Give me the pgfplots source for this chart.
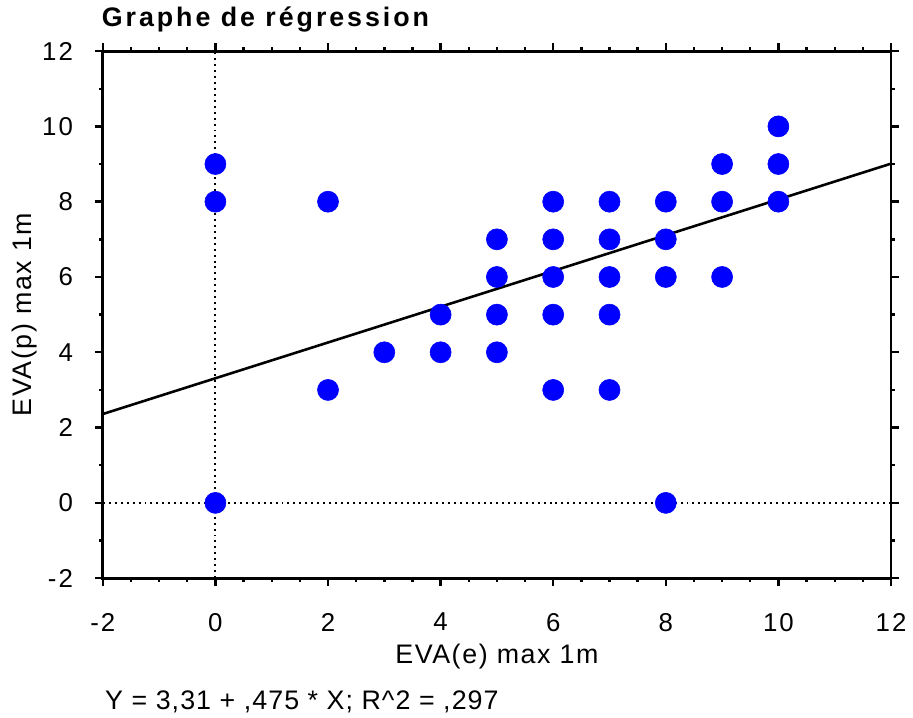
\documentclass[border=0pt]{standalone}
\usepackage{fontspec}
\setmainfont{Liberation Sans}
\usepackage{pgfplots}
\pgfplotsset{compat=1.18}
\begin{document}
\begin{tikzpicture}
\begin{axis}[
    scale only axis,
    width=397pt, height=265.5pt,
    xmin=-2, xmax=12, ymin=-2, ymax=12,
    xtick={-2,0,...,12}, ytick={-2,0,...,12},
    xticklabels={-2,0,2,4,6,8,10,12},
    yticklabels={-2,0,2,4,6,8,10,12},
    minor x tick num=3, minor y tick num=1,
    tick align=outside,
    major tick length=4pt, minor tick length=2pt,
    every tick/.style={black, line width=1.2pt},
    axis line style={line width=1.5pt},
    xticklabel style={font=\fontsize{13}{15}\selectfont\addfontfeature{LetterSpace=8}, yshift=-10pt},
    yticklabel style={font=\fontsize{13}{15}\selectfont\addfontfeature{LetterSpace=8}, xshift=-7.5pt},
    xlabel={EVA(e) max 1m},
    ylabel={EVA(p) max 1m},
    label style={font=\fontsize{13.5}{16}\selectfont\addfontfeature{LetterSpace=6}},
    xlabel style={at={(axis description cs:0.5,0)}, anchor=center, yshift=-39.5pt},
    ylabel style={at={(axis description cs:0,0.5)}, anchor=center, rotate=0, yshift=39.5pt, inner sep=6pt},
    clip=false,
]
% reference lines at x=0 and y=0
\addplot[black, line width=1pt, dash pattern=on 1pt off 2pt] coordinates {(0,-2) (0,12)};
\addplot[black, line width=1pt, dash pattern=on 1pt off 2pt] coordinates {(-2,0) (12,0)};
% regression line Y = 3.31 + 0.475 X
\addplot[black, line width=1.3pt] coordinates {(-2,2.36) (12,9.01)};
% observations
\addplot[only marks, color=blue, mark=*, mark size=5.3pt, mark options={solid, fill=blue, draw=blue, line width=0.3pt}] coordinates {
    (0,9) (0,8) (0,0)
    (2,8) (2,3)
    (3,4)
    (4,5) (4,4)
    (5,7) (5,6) (5,5) (5,4)
    (6,8) (6,7) (6,6) (6,5) (6,3)
    (7,8) (7,7) (7,6) (7,5) (7,3)
    (8,8) (8,7) (8,6) (8,0)
    (9,9) (9,8) (9,6)
    (10,10) (10,9) (10,8)
};
\node[anchor=base west, font=\fontsize{13.5}{16}\selectfont\bfseries\addfontfeature{LetterSpace=11}]
    at (rel axis cs:0,1) [xshift=-4pt, yshift=12.5pt] {Graphe de régression};
\node[anchor=base west, inner sep=2.5pt, font=\fontsize{13.5}{16}\selectfont\addfontfeature{LetterSpace=4}]
    at (rel axis cs:0,0) [xshift=-1.5pt, yshift=-66pt] {Y = 3,31 + ,475 * X; R\string^2 = ,297};
\end{axis}
\end{tikzpicture}
\end{document}
